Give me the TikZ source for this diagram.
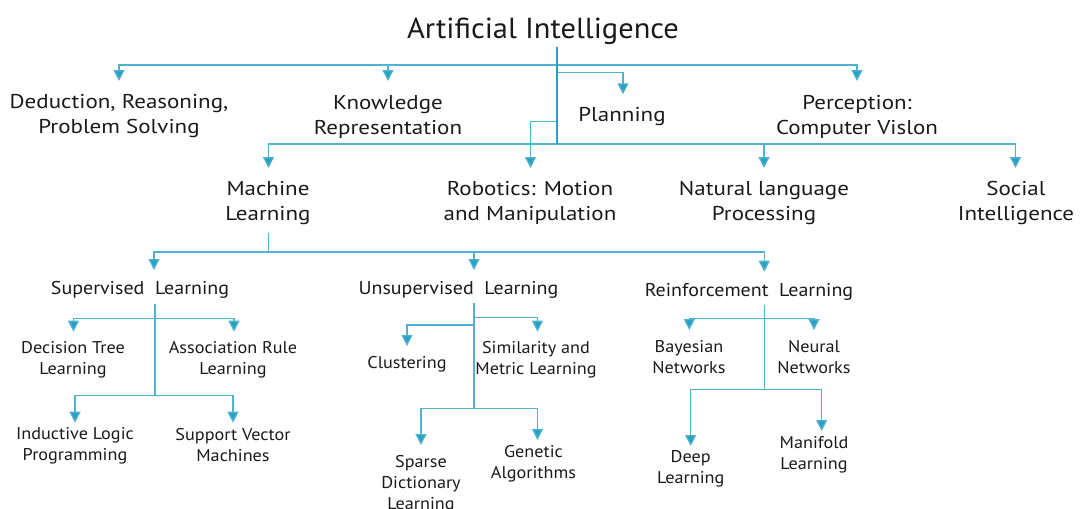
\documentclass[tikz,border=0pt]{standalone}
\usepackage{fontspec}
\setmainfont{PT Sans}
\newfontfamily\fTitle[FakeStretch=1.05]{PT Sans}
\newfontfamily\fA[FakeStretch=1.15]{PT Sans}
\newfontfamily\fB[FakeStretch=1.08]{PT Sans}
\newfontfamily\fC[FakeStretch=1.07]{PT Sans}
\usetikzlibrary{arrows.meta}
\definecolor{teal1}{RGB}{40,160,194}
\definecolor{teal2}{RGB}{78,178,208}
\definecolor{ink}{RGB}{26,26,26}
\begin{document}
\begin{tikzpicture}[x=1pt,y=-1pt,
  ln/.style={draw=teal2,line width=1.3pt},
  trunkln/.style={draw=teal1,line width=2pt},
  arr/.style={draw=teal2,line width=1.3pt,-{Triangle[width=11pt,length=11pt,fill=teal1]}},
  lab/.style={text=ink,align=center,inner sep=0pt,font=\fA\fontsize{20}{25}\selectfont},
  labc/.style={text=ink,align=center,inner sep=0pt,font=\fB\fontsize{18.5}{24}\selectfont},
  labs/.style={text=ink,align=center,inner sep=0pt,font=\fC\fontsize{17}{21}\selectfont},
  ttl/.style={text=ink,inner sep=0pt,font=\fTitle\fontsize{29}{34}\selectfont}]
\useasboundingbox (0,0) rectangle (1080,509);
% nodes
\node[ttl] (title) at (543,31) {Artificial Intelligence};
\node[lab] (ded) at (119,116.5) {Deduction, Reasoning,\\Problem Solving};
\node[lab] (know) at (388,116.5) {Knowledge\\Representation};
\node[lab] (plan) at (622,117) {Planning};
\node[lab] (perc) at (857,116.5) {Perception:\\Computer Vislon};
\node[lab] (ml) at (268,203) {Machine\\Learning};
\node[lab] (rob) at (530,203) {Robotics: Motion\\and Manipulation};
\node[lab] (nlp) at (764,203) {Natural language\\Processing};
\node[lab] (soc) at (1016,203) {Social\\Intelligence};
\node[labc] (sup) at (140,290) {Supervised\ \ Learning};
\node[labc] (uns) at (458.5,290) {Unsupervised\ \ Learning};
\node[labc] (rei) at (749,292) {Reinforcement\ \ Learning};
\node[labs] (dt) at (73,359.5) {Decision Tree\\Learning};
\node[labs] (ar) at (233,359.5) {Association Rule\\Learning};
\node[labs] (ilp) at (75,445.5) {Inductive Logic\\Programming};
\node[labs] (svm) at (233,445.5) {Support Vector\\Machines};
\node[labs] (clu) at (407,364) {Clustering};
\node[labs] (sim) at (536,359.5) {Similarity and\\Metric Learning};
\node[labs] (spa) at (421,484) {Sparse\\Dictionary\\Learning};
\node[labs] (gen) at (533.5,463.5) {Genetic\\Algorithms};
\node[labs] (bay) at (689,357.5) {Bayesian\\Networks};
\node[labs] (neu) at (814,357.5) {Neural\\Networks};
\node[labs] (deep) at (690.7,468.5) {Deep\\Learning};
\node[labs] (man) at (814,454.5) {Manifold\\Learning};
% junction coordinates
\coordinate (r0) at (556.7,47);
\coordinate (r1) at (556.7,65);
\coordinate (r2) at (556.7,72.3);
\coordinate (r3) at (556.7,121.7);
\coordinate (r4) at (556.7,144);
\coordinate (tded) at (119,81);
\coordinate (tknow) at (388,81);
\coordinate (tperc) at (857,81);
\coordinate (tplan) at (623,94.3);
\coordinate (trob) at (530.5,168);
\coordinate (tml) at (268.5,168);
\coordinate (tnlp) at (764,168);
\coordinate (tsoc) at (1015.5,168);
\coordinate (m0) at (268.5,233);
\coordinate (m1) at (268.5,252);
\coordinate (tsup) at (154,270);
\coordinate (tuns) at (474,270);
\coordinate (trei) at (764.3,271.7);
\coordinate (s0) at (155,304);
\coordinate (s1) at (155,318.3);
\coordinate (s2) at (155,395.7);
\coordinate (tdt) at (73.5,331.7);
\coordinate (tar) at (234,331.7);
\coordinate (tilp) at (75,422.7);
\coordinate (tsvm) at (233,422.7);
\coordinate (u0) at (474,303);
\coordinate (u1) at (474,317.3);
\coordinate (u2) at (474,325);
\coordinate (u3) at (474,408.3);
\coordinate (tsim) at (537.5,331.7);
\coordinate (tclu) at (407,346);
\coordinate (tspa) at (421,445);
\coordinate (tgen) at (537.5,440);
\coordinate (e0) at (764.3,305.3);
\coordinate (e1) at (764.3,318.3);
\coordinate (e2) at (764.3,389.3);
\coordinate (tbay) at (689.3,330);
\coordinate (tneu) at (814,330);
\coordinate (tdeep) at (690.7,446);
\coordinate (tman) at (821.7,431);
% connectors level 1
\draw[arr] (r1) -| (tded);
\draw[arr] (r1) -| (tknow);
\draw[arr] (r1) -| (tperc);
\draw[arr] (r2) -| (tplan);
\draw[arr] (r3) -| (trob);
\draw[arr] (r4) -| (tml);
\draw[arr] (r4) -| (tnlp);
\draw[arr] (r4) -| (tsoc);
\draw[trunkln] (r0) -- (r4);
% machine learning
\draw[ln] (m0) -- (m1);
\draw[arr] (m1) -| (tsup);
\draw[arr] (m1) -| (tuns);
\draw[arr] (m1) -| (trei);
% supervised
\draw[ln] (s0) -- (s2);
\draw[arr] (s1) -| (tdt);
\draw[arr] (s1) -| (tar);
\draw[arr] (s2) -| (tilp);
\draw[arr] (s2) -| (tsvm);
% unsupervised
\draw[ln] (u0) -- (u3);
\draw[arr] (u1) -| (tsim);
\draw[arr] (u2) -| (tclu);
\draw[arr] (u3) -| (tspa);
\draw[arr] (u3) -| (tgen);
% reinforcement
\draw[ln] (e0) -- (e2);
\draw[arr] (e1) -| (tbay);
\draw[arr] (e1) -| (tneu);
\draw[arr] (e2) -| (tdeep);
\draw[arr] (e2) -| (tman);
\end{tikzpicture}
\end{document}
